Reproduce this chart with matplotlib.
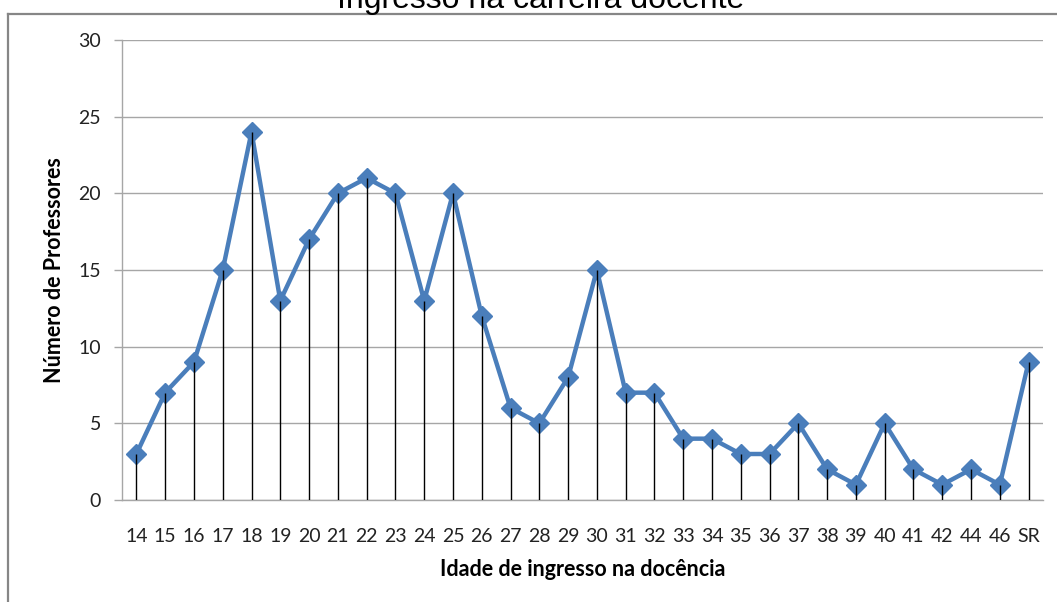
import matplotlib
matplotlib.use("Agg")
import matplotlib.pyplot as plt
from matplotlib.lines import Line2D

categories = ["14", "15", "16", "17", "18", "19", "20", "21", "22", "23", "24",
              "25", "26", "27", "28", "29", "30", "31", "32", "33", "34", "35",
              "36", "37", "38", "39", "40", "41", "42", "44", "46", "SR"]
professores = [3, 7, 9, 15, 24, 13, 17, 20, 21, 20, 13,
               20, 12, 6, 5, 8, 15, 7, 7, 4, 4, 3,
               3, 5, 2, 1, 5, 2, 1, 2, 1, 9]
yticks = [0, 5, 10, 15, 20, 25, 30]

title = "Ingresso na carreira docente"
xlabel = "Idade de ingresso na docência"
ylabel = "Número de Professores"

W, H = 1057, 602
fig = plt.figure(figsize=(W / 100, H / 100), dpi=100)
ax = fig.add_axes([122 / W, 1 - 500 / H, (1043 - 122) / W, 460 / H])

x = list(range(len(categories)))
blue = "#4A7EBB"
ax.plot(x, professores, color=blue, lw=3.2, marker="D", markersize=10,
        markerfacecolor=blue, markeredgecolor=blue, zorder=3,
        solid_joinstyle="round")
ax.vlines(x, 0, professores, color="black", lw=1.0, zorder=4)

ax.set_xlim(-0.5, len(categories) - 0.5)
ax.set_ylim(0, 30)
ax.set_yticks(yticks)
ax.set_xticks(x)
ax.set_xticklabels(categories)
ax.yaxis.grid(True, color="#A6A6A6", lw=1.0)
ax.set_axisbelow(True)

for s in ["top", "right"]:
    ax.spines[s].set_visible(False)
for s in ["left", "bottom"]:
    ax.spines[s].set_color("#A6A6A6")
    ax.spines[s].set_linewidth(1.0)

tick_font = "Lato"
ax.tick_params(axis="y", length=6, width=1, color="#A6A6A6", pad=9,
               labelsize=14, labelcolor="#222222")
ax.tick_params(axis="x", length=0, pad=20, labelsize=14, labelcolor="#222222")
for lab in ax.get_xticklabels() + ax.get_yticklabels():
    lab.set_fontfamily(tick_font)

ax.set_xlabel(xlabel, fontsize=15.5, fontweight="bold", family=tick_font, labelpad=10)
ax.set_ylabel(ylabel, fontsize=15.5, fontweight="bold", family=tick_font, labelpad=10)

fig.text(541 / W, 1 - 8 / H, title, ha="center", va="baseline",
         fontsize=23, family="Liberation Sans", color="black")

# chart frame (top and left edges visible)
fig.add_artist(Line2D([8 / W, 1.0], [1 - 13.5 / H, 1 - 13.5 / H],
                      transform=fig.transFigure, color="#868686", lw=1.6))
fig.add_artist(Line2D([8 / W, 8 / W], [0, 1 - 13.5 / H],
                      transform=fig.transFigure, color="#868686", lw=1.6))

fig.savefig("out.png", dpi=100)
